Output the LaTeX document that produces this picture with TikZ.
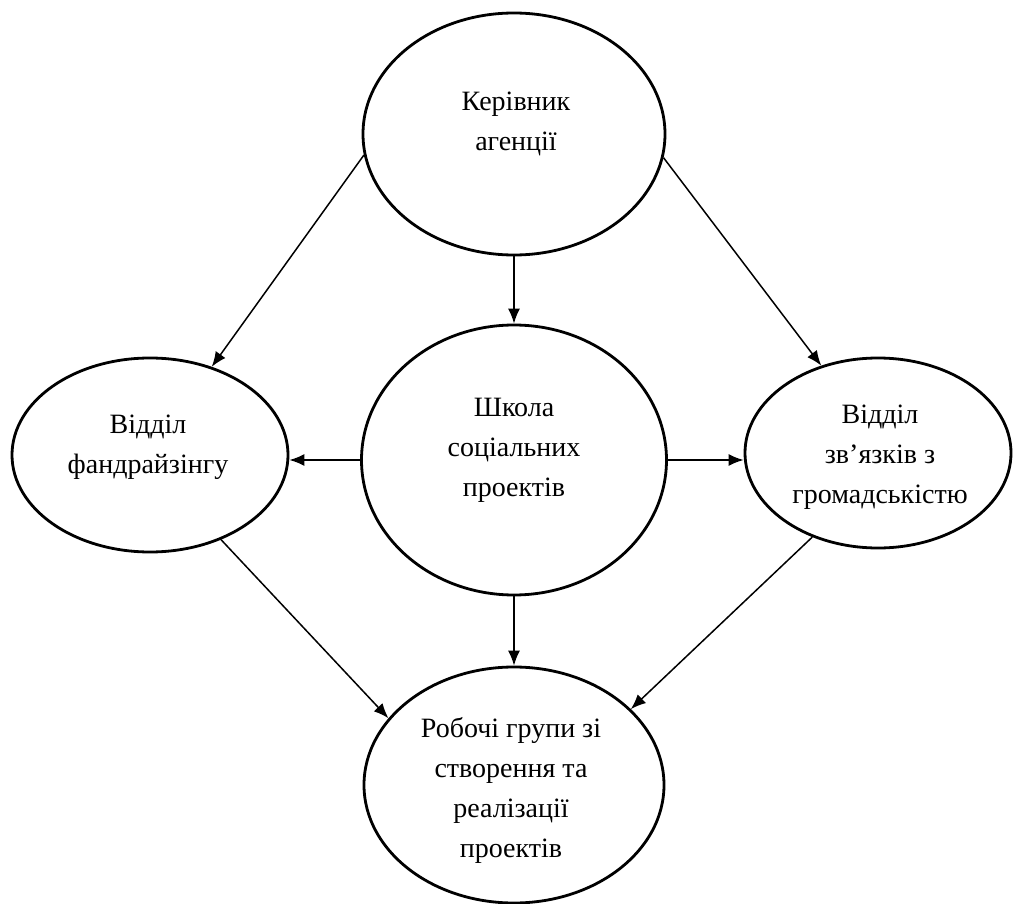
\documentclass[tikz,border=0pt]{standalone}
\usepackage{fontspec}
\setmainfont{Liberation Serif}
\usetikzlibrary{shapes.geometric,arrows.meta}
\begin{document}
\begin{tikzpicture}[x=1pt,y=-1pt,
  unit/.style={ellipse,draw=black,line width=2.8pt,inner sep=0pt},
  caption/.style={align=center,inner sep=0pt,font=\fontsize{28}{40}\selectfont},
  link/.style={line width=1.5pt,-{Latex[length=15pt,width=12pt]}}]
  \useasboundingbox (0,0) rectangle (1013,904);
  % organisational units
  \node[unit,minimum width=302pt,minimum height=242pt] (head) at (514,134) {};
  \node[unit,minimum width=305pt,minimum height=270pt] (school) at (514,460) {};
  \node[unit,minimum width=276pt,minimum height=194pt] (fund) at (150,455) {};
  \node[unit,minimum width=266pt,minimum height=190pt] (pub) at (878,453) {};
  \node[unit,minimum width=300pt,minimum height=236pt] (groups) at (514,785) {};
  % captions
  \node[caption] (headT) at (516,124) {Керівник\\агенції};
  \node[caption] (schoolT) at (514,450) {Школа\\соціальних\\проектів};
  \node[caption] (fundT) at (148,447) {Відділ\\фандрайзінгу};
  \node[caption] (pubT) at (880,457) {Відділ\\зв’язків з\\громадськістю};
  \node[caption] (groupsT) at (511,790) {Робочі групи зі\\створення та\\реалізації\\проектів};
  % links
  \draw[link] (head.188.8) -- (fund.55);
  \draw[link] (head.351.2) -- (pub.123.4);
  \draw[link] (head.south) -- (school.north);
  \draw[link] (school.west) -- (school.west -| fund.east);
  \draw[link] (school.east) -- (school.east -| pub.west);
  \draw[link] (school.south) -- (groups.north);
  \draw[link] (fund.-50.7) -- (groups.152.4);
  \draw[link] (pub.232) -- (groups.33);
\end{tikzpicture}
\end{document}
